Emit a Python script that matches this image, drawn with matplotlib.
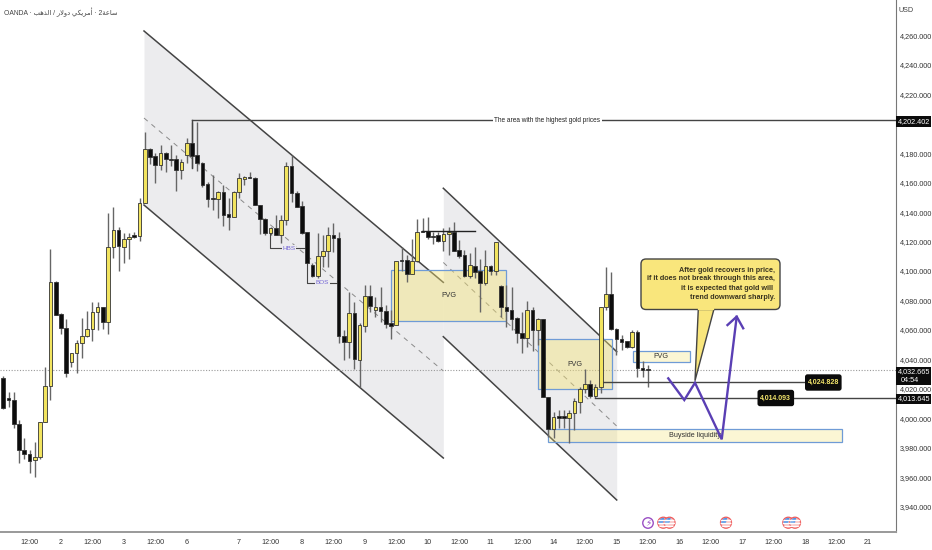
import matplotlib
matplotlib.use("Agg")
import matplotlib.pyplot as plt
from matplotlib.patches import FancyBboxPatch, Polygon, Rectangle, Ellipse, Wedge

plt.rcParams['font.family'] = ['Liberation Sans', 'DejaVu Sans']

# 2h candles
opens = [4027.1,4014.0,4012.4,3996.1,3978.5,3975.7,3971.4,3973.9,3997.7,4022.1,
         4092.3,4070.6,4061.0,4038.0,4044.1,4051.4,4056.1,4060.4,4072.4,4075.4,
         4065.4,4116.6,4127.9,4116.6,4121.5,4124.7,4123.8,4146.0,4182.7,4178.1,
         4172.0,4180.0,4175.9,4175.9,4168.6,4178.8,4186.7,4178.8,4173.2,4158.9,
         4149.4,4148.9,4153.9,4138.7,4136.9,4153.9,4162.3,4163.6,4163.2,4144.9,
         4135.6,4125.6,4129.5,4124.5,4134.7,4171.3,4153.2,4144.2,4126.3,4104.1,
         4096.9,4110.2,4113.6,4124.4,4122.6,4056.0,4052.0,4071.2,4039.5,4062.9,
         4083.2,4073.5,4075.8,4073.0,4064.5,4063.1,4107.5,4107.5,4097.7,4106.8,
         4127.4,4127.2,4123.5,4124.2,4120.6,4125.1,4126.7,4114.3,4110.6,4096.8,
         4103.4,4100.2,4091.6,4103.4,4100.2,4090.0,4075.8,4073.5,4067.8,4057.7,
         4054.7,4073.5,4059.9,4067.2,4014.6,3992.4,4000.8,4000.8,4000.4,4003.3,
         4011.2,4019.6,4023.0,4015.1,4021.0,4075.3,4084.1,4060.6,4053.6,4052.2,
         4048.1,4058.3,4034.4,4032.9]
closes = [4006.8,4012.4,3995.9,3978.5,3975.7,3971.2,3973.9,3997.7,4022.1,4092.3,
          4070.1,4061.5,4030.5,4044.1,4051.4,4056.1,4060.4,4072.4,4075.4,4065.4,
          4116.6,4127.9,4117.0,4121.5,4122.9,4123.1,4146.0,4182.7,4177.7,4172.0,
          4180.0,4176.1,4175.4,4168.6,4174.3,4187.2,4178.1,4173.4,4158.4,4148.9,
          4148.9,4153.9,4138.0,4136.9,4153.9,4163.0,4164.1,4163.0,4144.9,4135.4,
          4125.6,4129.2,4124.5,4134.7,4171.3,4153.2,4143.7,4126.0,4105.2,4096.9,
          4110.4,4113.8,4124.4,4122.2,4056.0,4052.0,4071.2,4040.0,4063.1,4083.2,
          4076.2,4075.8,4073.0,4064.0,4062.9,4107.0,4107.0,4098.0,4106.8,4126.7,
          4126.7,4123.3,4122.9,4120.6,4125.1,4126.7,4113.8,4110.2,4096.8,4103.8,
          4099.5,4091.6,4103.4,4100.2,4119.9,4075.8,4073.0,4067.4,4057.7,4054.7,
          4073.5,4059.9,4067.2,4014.6,3992.4,4000.6,4000.4,4000.4,4003.8,4011.7,
          4019.6,4023.0,4015.1,4021.0,4075.3,4084.1,4060.6,4053.6,4051.5,4048.1,
          4058.3,4033.9,4032.8,4032.665]
highs = [4028.7,4018.0,4018.0,3998.8,3986.4,3978.5,3984.1,3997.7,4034.6,4114.7,
         4093.5,4071.7,4067.2,4044.1,4053.2,4067.9,4073.1,4078.8,4079.2,4075.8,
         4139.7,4143.3,4130.1,4125.6,4126.0,4126.7,4149.8,4194.7,4183.3,4180.0,
         4185.6,4181.0,4185.6,4178.8,4175.9,4190.1,4201.0,4201.0,4174.0,4160.3,
         4165.2,4154.6,4158.4,4149.4,4154.6,4166.4,4164.6,4167.5,4163.6,4145.0,
         4135.8,4130.1,4138.0,4138.0,4173.8,4178.8,4154.0,4147.8,4126.7,4105.2,
         4125.6,4124.4,4130.1,4132.8,4126.7,4059.9,4086.0,4079.2,4064.4,4090.5,
         4090.5,4082.6,4088.9,4076.9,4073.5,4107.0,4116.5,4110.9,4121.5,4135.1,
         4135.8,4136.9,4126.7,4126.7,4129.0,4129.7,4133.5,4121.0,4114.3,4112.0,
         4116.5,4108.0,4114.3,4104.0,4120.0,4090.5,4090.5,4089.4,4069.0,4072.4,
         4079.8,4075.8,4067.8,4067.2,4014.6,4004.5,4005.6,4005.6,4005.6,4013.5,
         4021.4,4033.2,4026.0,4023.2,4075.3,4102.9,4099.5,4061.0,4056.5,4052.5,
         4059.9,4059.9,4039.1,4036.2]
lows = [4006.0,4007.9,3993.2,3969.9,3972.1,3963.0,3960.3,3972.3,3997.7,4012.4,
        4070.1,4057.2,4027.8,4034.6,4030.5,4040.7,4055.4,4052.7,4060.0,4060.9,
        4057.0,4108.6,4099.8,4105.2,4108.0,4122.7,4120.6,4146.0,4172.5,4159.6,
        4168.6,4167.5,4171.3,4154.6,4162.3,4173.2,4170.0,4168.2,4156.9,4143.7,
        4141.5,4135.8,4130.8,4127.9,4136.9,4149.4,4158.4,4163.0,4144.9,4125.2,
        4124.5,4124.5,4124.5,4118.8,4131.3,4147.0,4143.3,4125.2,4105.2,4096.2,
        4095.5,4102.9,4103.0,4113.1,4050.9,4039.5,4040.7,4033.2,4021.4,4058.8,
        4072.4,4069.0,4065.6,4061.0,4053.6,4063.1,4100.0,4092.8,4097.7,4106.3,
        4126.7,4121.5,4118.3,4119.9,4113.8,4110.9,4113.8,4108.6,4096.1,4095.0,
        4095.0,4072.4,4090.5,4097.3,4097.3,4069.0,4062.2,4059.9,4050.9,4044.0,
        4048.6,4045.9,4050.0,4014.6,3987.5,3986.3,3993.1,3993.1,3982.9,3992.0,
        4003.3,4016.9,4013.5,4013.5,4016.9,4073.5,4059.9,4043.0,4046.3,4048.0,
        4047.5,4028.2,4027.8,4021.4]

# 4,200 sits behind the 4,202.402 tag in the reference, so it is left out
price_ticks = [p for p in range(3940, 4261, 20) if p != 4200]
time_ticks = [5,11,17,23,29,35,45,51,57,63,69,75,81,87,93,99,105,111,117,123,129,135,141,147,153,159,165]
time_labels = ['12:00','2','12:00','3','12:00','6','7','12:00','8','12:00','9','12:00','10','12:00',
               '11','12:00','14','12:00','15','12:00','16','12:00','17','12:00','18','12:00','21']

last_price = 4032.665
high_level = 4202.402
level_a = 4024.828
level_b = 4013.645

YELLOW = '#f2e45f'
DARK = '#444444'
BLUE = '#6f9bd6'
PURPLE = '#7668d6'
GRAY = '#ececee'

fig = plt.figure(figsize=(9.32, 5.5), dpi=100)
ax = fig.add_axes([0, 18.3/550, 896/932, 531.7/550])
ax.set_xlim(-0.63, 170.36)
ax.set_ylim(3922.96, 4284.04)

# channels
chx1 = [26.85, 83.97]
chx2 = [83.97, 117.06]
ax.fill_between(chx1, [4263.0, 4092.3], [4144.8, 3973.0], color=GRAY, lw=0, zorder=1)
ax.fill_between(chx2, [4156.2, 4045.2], [4055.4, 3944.5], color=GRAY, lw=0, zorder=1)
for xs, top, mid, bot in [(chx1, [4263.0, 4092.3], [4203.9, 4032.1], [4144.8, 3973.0]),
                          (chx2, [4156.2, 4045.2], [4105.8, 3994.7], [4055.4, 3944.5])]:
    ax.plot(xs, top, color=DARK, lw=1.1, zorder=2)
    ax.plot(xs, bot, color=DARK, lw=1.1, zorder=2)
    ax.plot(xs, mid, color='#8a8a8a', lw=0.7, ls=(0, (5, 5)), zorder=2)

# zones
zones = [(73.99, 95.9, 4066.0, 4100.7, 'FVG', 0.42),
         (102.1, 116.1, 4019.7, 4053.6, 'FVG', 0.42),
         (120.1, 131.0, 4038.4, 4045.7, 'FVG', 0.3),
         (104.0, 160.0, 3983.9, 3992.5, 'Buyside liquidity', 0.3)]
for x0, x1, y0, y1, label, alpha in zones:
    ax.add_patch(Rectangle((x0, y0), x1-x0, y1-y0, facecolor=(0.96, 0.89, 0.45, alpha),
                           edgecolor=BLUE, lw=0.9, zorder=2.5))
    ax.text((x0+x1)/2, (y0+y1)/2, label, ha='center', va='center', fontsize=5.2, color='#333333', zorder=6)

# last price dotted line
ax.axhline(last_price, color='#9a9a9a', lw=0.8, ls=(0, (1, 1.5)), zorder=2)

# candles
for i in range(len(opens)):
    up = closes[i] >= opens[i]
    ax.vlines(i, lows[i], highs[i], color='#666666', lw=1.0, zorder=3)
    lo = min(opens[i], closes[i])
    hi = max(opens[i], closes[i])
    ax.bar(i, max(hi-lo, 0.8), 0.7, bottom=lo, color=YELLOW if up else '#0d0d0d',
           edgecolor='#333333', lw=0.6, zorder=4)

# marked levels
ax.plot([36, 36], [4170, high_level], color=DARK, lw=1, zorder=3)
ax.plot([36, 170.36], [high_level, high_level], color=DARK, lw=1, zorder=3)
ax.text(103.8, high_level, 'The area with the highest gold prices', ha='center', va='center', fontsize=4.7,
        color='#222222', bbox=dict(fc='white', ec='none', pad=1), zorder=5)
ax.plot([50.95, 50.95, 57.7], [4125.6, 4115.4, 4115.4], color=DARK, lw=0.8, zorder=3)
ax.text(54.5, 4115.4, 'HBS', ha='center', va='center', fontsize=4.6, color=PURPLE, zorder=5,
        bbox=dict(fc=GRAY, ec='none', pad=0.5))
ax.plot([58, 58, 63.7], [4105.2, 4092.0, 4092.0], color=DARK, lw=0.8, zorder=3)
ax.text(60.9, 4092.0, 'BOS', ha='center', va='center', fontsize=4.6, color=PURPLE, zorder=5,
        bbox=dict(fc=GRAY, ec='none', pad=0.5))
ax.plot([79.85, 90.0], [4127.4, 4127.4], color='#222222', lw=1, zorder=5)
ax.plot([114.2, 153], [level_a, level_a], color=DARK, lw=1, zorder=3)
ax.plot([113, 170.36], [level_b, level_b], color=DARK, lw=1, zorder=3)

# scenario path
path_x = [126.9, 129.96, 132.0, 137.1, 139.96]
path_y = [4027.1, 4012.4, 4024.1, 3985.7, 4069.0]
ax.plot(path_x, path_y, color='#5a3fb4', lw=1.7, zorder=7, solid_joinstyle='miter')
ax.plot([138.2, 139.96, 141.2], [4063.3, 4069.0, 4061.1], color='#5a3fb4', lw=1.7, zorder=7)

# axes
for side in ['top', 'left']:
    ax.spines[side].set_visible(False)
ax.spines['right'].set_color('#777777')
ax.spines['bottom'].set_color('#999999')
ax.spines['bottom'].set_linewidth(1.4)
ax.yaxis.tick_right()
ax.set_yticks(price_ticks, ['{:,.3f}'.format(p) for p in price_ticks])
ax.set_xticks(time_ticks, time_labels)
ax.tick_params(axis='y', length=0, labelsize=5.2, labelcolor='#333333', pad=2.5)
ax.tick_params(axis='x', length=0, labelsize=5.2, labelcolor='#333333', pad=5)

# price scale tags
trans = ax.get_yaxis_transform()
for y0, y1, lines in [(4022.6, 4035.0, ['4,032.665', '04:54']),
                      (4009.7, 4016.5, ['4,013.645']),
                      (4197.7, 4205.5, ['4,202.402'])]:
    ax.add_patch(Rectangle((1.0, y0), 0.039, y1-y0, transform=trans, fc='#0b0b0b', ec='none', clip_on=False, zorder=9))
    if len(lines) == 2:
        ax.text(1.02, 4032.0, lines[0], transform=trans, ha='center', va='center', fontsize=5.2, color='white', zorder=10)
        ax.text(1.005, 4025.9, lines[1], transform=trans, ha='left', va='center', fontsize=5.2, color='white', zorder=10)
    else:
        ax.text(1.02, (y0+y1)/2, lines[0], transform=trans, ha='center', va='center', fontsize=5.2, color='white', zorder=10)

# overlay in pixels for the call-out, tags, header and calendar marks
ov = fig.add_axes([0, 0, 1, 1], facecolor='none')
ov.set_xlim(0, 932)
ov.set_ylim(550, 0)
ov.axis('off')

ov.text(4, 12, 'OANDA · \ufe90\ufeeb\ufeac\ufedf\ufe8d / \ufead\ufefb\ufeed\ufea9 \ufef2\ufedc\ufef3\ufeae\ufee3\ufe83 · 2\ufe94\ufecb\ufe8e\ufeb3',
        fontsize=4.9, color='#444444', va='center')
ov.text(906, 11, 'USD', fontsize=5.2, color='#444444', ha='center', va='center')

ov.add_patch(Polygon([(698.3, 309), (695, 380.7), (714, 309)], closed=True, fc='#f9e67c', ec='#444444', lw=1, zorder=2))
ov.add_patch(FancyBboxPatch((644, 262), 133, 44.5, boxstyle='round,pad=3,rounding_size=5',
                            fc='#f9e67c', ec='#444444', lw=1, zorder=3))
ov.plot([699.2, 713.2], [309.3, 309.3], color='#f9e67c', lw=1.6, zorder=4)
note_lines = ['After gold recovers in price,', 'if it does not break through this area,',
              'it is expected that gold will ', 'trend downward sharply.']
for y, line in zip([270, 279, 288.3, 297.3], note_lines):
    ov.text(775, y, line, ha='right', va='center', fontsize=5.2, fontweight='bold', color='#3a3420', zorder=5)

# level tags
for tx, ty, label in [(823.3, 382.5, '4,024.828'), (775.8, 398, '4,014.093')]:
    ov.add_patch(FancyBboxPatch((tx-16.3, ty-6.2), 32.6, 12.4, boxstyle='round,pad=2,rounding_size=2.5',
                                fc='#0b0b0b', ec='none', zorder=6))
    ov.text(tx, ty, label, ha='center', va='center', fontsize=5, fontweight='bold', color='#f4e66c', zorder=7)

# calendar icons
ov.add_patch(Ellipse((648, 523), 10.5, 10.5, fc='white', ec='#9a4fc4', lw=1))
ov.text(648, 523, '⚡', fontsize=6.5, color='#9a4fc4', ha='center', va='center', family='DejaVu Sans')
for fx in [663.3, 669.5, 726, 788.3, 795]:
    disc = Ellipse((fx, 522.7), 11, 11, fc='#f8c4c4', ec='#ef5a5a', lw=0.9)
    ov.add_patch(disc)
    for sy in [519.5, 522.5, 525.5]:
        stripe, = ov.plot([fx-6, fx+6], [sy, sy], color='white', lw=1)
        stripe.set_clip_path(disc)
    ov.add_patch(Wedge((fx, 522.7), 4.8, 160, 285, fc='#4f94e6', ec='none'))

fig.savefig('out.png', dpi=100)
